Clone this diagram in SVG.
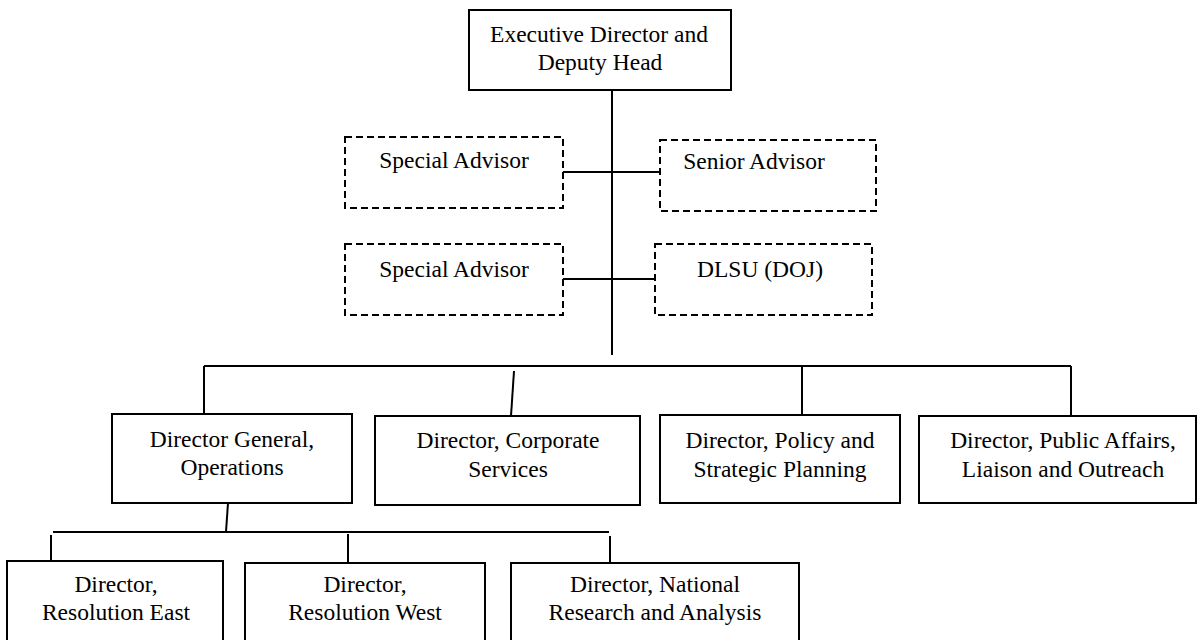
<svg xmlns="http://www.w3.org/2000/svg" width="1199" height="640" viewBox="0 0 1199 640">
<style>
.box{fill:#fff;stroke:#000;stroke-width:2}
.dbox{fill:#fff;stroke:#000;stroke-width:2;stroke-dasharray:7 4}
.t{font-family:"Liberation Serif","Times New Roman",serif;font-size:23.5px;fill:#000;text-anchor:middle}
.c line{stroke:#000;stroke-width:2}
</style>
<rect width="1199" height="640" fill="#fff"/>
<g id="connectors" class="c">
<line x1="612" y1="90" x2="612" y2="355"/>
<line x1="563" y1="172" x2="660" y2="172"/>
<line x1="563" y1="279" x2="655" y2="279"/>
<line x1="204" y1="366" x2="1071" y2="366"/>
<line x1="204" y1="366" x2="204" y2="414"/>
<line x1="514" y1="371" x2="511" y2="416"/>
<line x1="802" y1="366" x2="802" y2="415"/>
<line x1="1071" y1="366" x2="1071" y2="416"/>
<line x1="228" y1="503" x2="226" y2="532"/>
<line x1="53" y1="532" x2="609" y2="532"/>
<line x1="51" y1="535" x2="51" y2="561"/>
<line x1="348" y1="534" x2="348" y2="563"/>
<line x1="610" y1="536" x2="610" y2="563"/>
</g>
<g id="exec">
<rect class="box" x="469" y="10" width="262" height="80"/>
<text class="t" x="599" y="42">Executive Director and</text>
<text class="t" x="600" y="70">Deputy Head</text>
</g>
<g id="special1">
<rect class="dbox" x="345" y="137" width="218" height="71"/>
<text class="t" x="454" y="168">Special Advisor</text>
</g>
<g id="senior">
<rect class="dbox" x="660" y="140" width="216" height="71"/>
<text class="t" x="754" y="169">Senior Advisor</text>
</g>
<g id="special2">
<rect class="dbox" x="345" y="244" width="218" height="71"/>
<text class="t" x="454" y="277">Special Advisor</text>
</g>
<g id="dlsu">
<rect class="dbox" x="655" y="244" width="217" height="71"/>
<text class="t" x="760" y="277">DLSU (DOJ)</text>
</g>
<g id="dg">
<rect class="box" x="112" y="414" width="240" height="89"/>
<text class="t" x="232" y="447">Director General,</text>
<text class="t" x="232" y="475">Operations</text>
</g>
<g id="corporate">
<rect class="box" x="375" y="416" width="265" height="89"/>
<text class="t" x="508" y="448">Director, Corporate</text>
<text class="t" x="508" y="477">Services</text>
</g>
<g id="policy">
<rect class="box" x="660" y="415" width="240" height="88"/>
<text class="t" x="780" y="448">Director, Policy and</text>
<text class="t" x="780" y="477">Strategic Planning</text>
</g>
<g id="public">
<rect class="box" x="919" y="416" width="277" height="87"/>
<text class="t" x="1063" y="448">Director, Public Affairs,</text>
<text class="t" x="1063" y="477">Liaison and Outreach</text>
</g>
<g id="east">
<rect class="box" x="7" y="561" width="216" height="90"/>
<text class="t" x="116" y="592">Director,</text>
<text class="t" x="116" y="620">Resolution East</text>
</g>
<g id="west">
<rect class="box" x="245" y="563" width="240" height="90"/>
<text class="t" x="365" y="592">Director,</text>
<text class="t" x="365" y="620">Resolution West</text>
</g>
<g id="national">
<rect class="box" x="511" y="563" width="288" height="90"/>
<text class="t" x="655" y="592">Director, National</text>
<text class="t" x="655" y="620">Research and Analysis</text>
</g>
</svg>
